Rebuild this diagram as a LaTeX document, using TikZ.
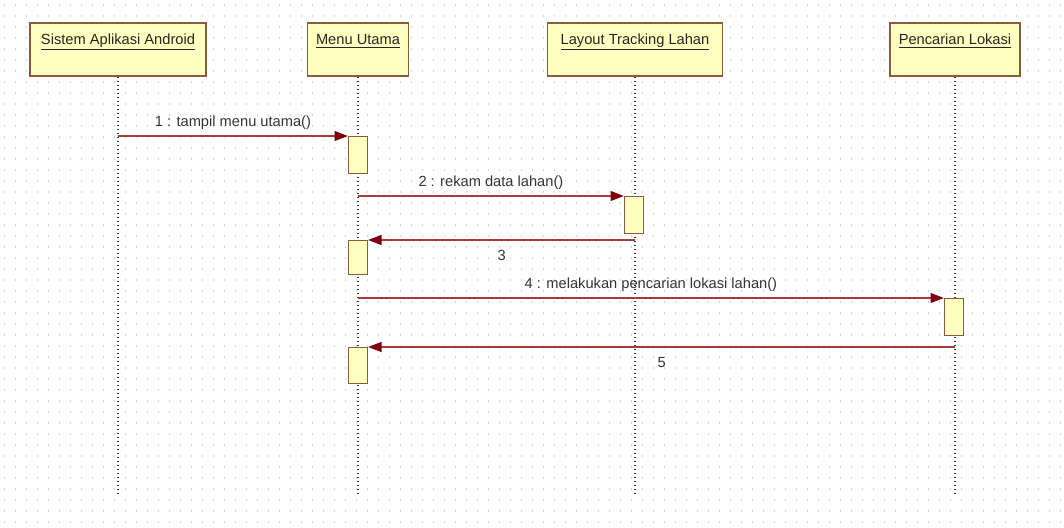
\documentclass[tikz,border=0pt]{standalone}
\usepackage{fontspec}
\setmainfont{Liberation Sans}
\usetikzlibrary{arrows.meta,positioning}

\definecolor{boxfill}{HTML}{FFFFC0}
\definecolor{boxline}{HTML}{8C5A3C}
\definecolor{msgline}{HTML}{A83A3A}
\definecolor{tipred}{HTML}{800010}
\definecolor{griddot}{HTML}{D4D4D4}

\tikzset{
  header/.style={draw=boxline, fill=boxfill, line width=1.1pt, minimum width=#1,
    minimum height=39.75pt, text height=9pt, text depth=16pt, inner sep=0pt,
    font=\fontsize{11}{13}\selectfont, text=black!85},
  actbar/.style={draw=boxline, fill=boxfill, line width=1pt, minimum width=14.25pt,
    minimum height=#1, inner sep=0pt},
  lifeline/.style={draw=black!80, line width=1.4pt, dash pattern=on 1.2pt off 1.8pt},
  msg/.style={draw=msgline, line width=0.9pt,
    -{Triangle[length=10pt, width=7.5pt, fill=tipred, color=tipred]}},
  msgtext/.style={font=\fontsize{11}{13}\selectfont, text=black!80},
  gridline/.style={draw=griddot, line width=0.9pt, dash pattern=on 0.9pt off 7.35pt}
}

\begin{document}
\begin{tikzpicture}[x=0.75pt, y=-0.75pt]
  \useasboundingbox (0,0) rectangle (1064,528);

  % Hintergrundraster
  \foreach \gy in {5,16,...,528}
    \draw[gridline] (4,\gy) -- (1064,\gy);

  % Objekte
  \node[header=132pt] (sys) at (118,49.5) {\underline{Sistem Aplikasi Android}};
  \node[header=75.75pt] (menu) at (358,49.5) {\underline{Menu Utama}};
  \node[header=131.25pt] (layout) at (635,49.5) {\underline{Layout Tracking Lahan}};
  \node[header=97.5pt] (cari) at (955,49.5) {\underline{Pencarian Lokasi}};

  % Lebenslinien
  \coordinate (sysend) at (118,494);
  \coordinate (menuend) at (358,494);
  \coordinate (layoutend) at (635,494);
  \coordinate (cariend) at (955,494);
  \draw[lifeline] (sys.south) -- (sysend);
  \draw[lifeline] (menu.south) -- (menuend);
  \draw[lifeline] (layout.south) -- (layoutend);
  \draw[lifeline] (cari.south) -- (cariend);

  % Aktivierungsbalken
  \node[actbar=27.75pt, anchor=north] (act1) at (358,136) {};
  \node[actbar=27.75pt, anchor=north] (act2) at (634,196) {};
  \node[actbar=25.5pt, anchor=north] (act3) at (358,240) {};
  \node[actbar=27.75pt, anchor=north] (act4) at (954,298) {};
  \node[actbar=27pt, anchor=north] (act5) at (358,347) {};

  % Nachrichten
  \draw[msg] (act1.north west -| sys) -- (act1.north west)
    node[msgtext, midway, above=1pt] {1 : tampil menu utama()};
  \draw[msg] (act2.north west -| menu) -- (act2.north west)
    node[msgtext, midway, above=1pt] {2 : rekam data lahan()};
  \draw[msg] (act3.north east -| layout) -- (act3.north east)
    node[msgtext, midway, below=4pt] {3};
  \draw[msg] (act4.north west -| menu) -- (act4.north west)
    node[msgtext, midway, above=1pt] {4 : melakukan pencarian lokasi lahan()};
  \draw[msg] (act5.north east -| cari) -- (act5.north east)
    node[msgtext, midway, below=4pt] {5};
\end{tikzpicture}
\end{document}
